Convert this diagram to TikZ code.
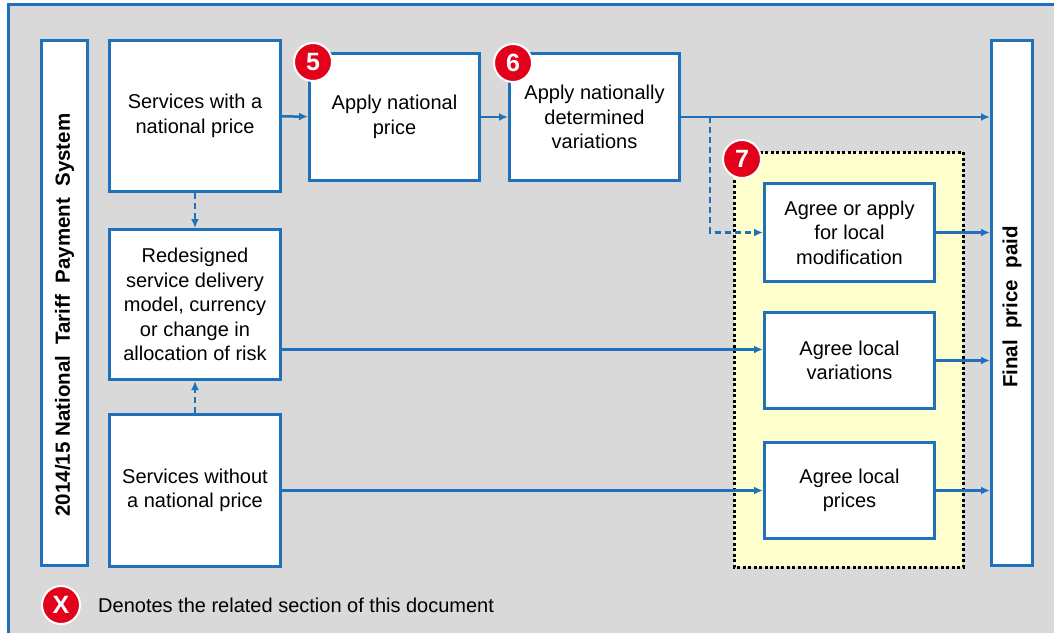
\documentclass[tikz,border=0pt]{standalone}
\usepackage{fontspec}
\setmainfont{Liberation Sans}
\usetikzlibrary{positioning}
\usetikzlibrary{arrows.meta}

\definecolor{frameblue}{RGB}{31,114,186}
\definecolor{panelgrey}{RGB}{217,217,217}
\definecolor{localyellow}{RGB}{255,255,206}
\definecolor{badgered}{RGB}{226,0,26}

\begin{document}
\begin{tikzpicture}[x=1pt,y=-1pt,
	box/.style={draw=frameblue, line width=3pt, fill=white, align=center, inner sep=0pt, font=\fontsize{20}{24.5}\selectfont},
	sidebar/.style={box, rotate=90, font=\bfseries\fontsize{20.5}{24}\selectfont},
	flow/.style={draw=frameblue, line width=2.5pt, -{Latex[length=9pt,width=8pt]}},
	dashflow/.style={flow, dash pattern=on 6pt off 4pt},
	badge/.style={circle, fill=badgered, draw=white, line width=2pt, minimum size=38pt, inner sep=0pt, text=white, font=\bfseries\fontsize{25}{25}\selectfont}]
	\useasboundingbox (0,0) rectangle (1054,633);
	% Panel %
	\fill [panelgrey] (8,4) rectangle (1054,633);
	\draw [frameblue, line width=3pt] (8,633) -- (8,4) -- (1054,4);
	% Local Zone %
	\filldraw [fill=localyellow, draw=black, line width=3pt, dash pattern=on 3pt off 2.5pt] (734,152) rectangle (963,567);
	% Side Bars %
	\node [sidebar, minimum width=525, minimum height=46] (tariff) at (64.5,303) {2014/15 National\ \ Tariff\ \ Payment\ \ System\hspace*{24pt}};
	\node [sidebar, minimum width=525, minimum height=41] (final) at (1012,303) {Final\ \ price\ \ paid\hspace*{8pt}};
	% Service Boxes %
	\node [box, minimum width=171, minimum height=151] (withprice) at (195,116) {Services with a\\national price};
	\node [box, minimum width=171, minimum height=150] (redesign) at (195,304.5) {Redesigned\\service delivery\\model, currency\\or change in\\allocation of risk};
	\node [box, minimum width=171, minimum height=152] (noprice) at (195,490.5) {Services without\\a national price};
	% National Steps %
	\node [box, minimum width=170, minimum height=127] (applynat) at (394.5,117) {Apply national\\price};
	\node [box, minimum width=170, minimum height=127] (applyvar) at (594.5,117) {Apply nationally\\determined\\variations};
	% Local Steps %
	\node [box, minimum width=170, minimum height=98] (localmod) at (849.5,232.5) {Agree or apply\\for local\\modification};
	\node [box, minimum width=170, minimum height=96] (localvar) at (849.5,360.5) {Agree local\\variations};
	\node [box, minimum width=170, minimum height=96] (localprice) at (849.5,490.5) {Agree local\\prices};
	% Connectors %
	\draw [flow] (withprice) -- (applynat);
	\draw [flow] (applynat) -- (applyvar);
	\draw [flow] (applyvar.east) -- (applyvar.east -| final.north);
	\coordinate (branch) at (710,117);
	\draw [dashflow] (branch) |- (localmod.west);
	\draw [flow] (localmod.east) -- (localmod.east -| final.north);
	\draw [flow] ([yshift=-45pt]redesign.east) -- ([yshift=-45pt]redesign.east -| localvar.west);
	\draw [flow] (localvar.east) -- (localvar.east -| final.north);
	\draw [flow] (noprice) -- (localprice);
	\draw [flow] (localprice.east) -- (localprice.east -| final.north);
	\draw [dashflow] (withprice) -- (redesign);
	\draw [dashflow] (noprice) -- (redesign);
	% Section Badges %
	\node [badge] (sec5) at (313,62) {5};
	\node [badge] (sec6) at (513,63) {6};
	\node [badge] (sec7) at (742,159) {7};
	% Legend %
	\node [badge] (secx) at (61,605) {X};
	\node [anchor=base west, inner sep=0pt, font=\fontsize{20}{24}\selectfont] (legend) at (98,612) {Denotes the related section of this document};
\end{tikzpicture}
\end{document}
